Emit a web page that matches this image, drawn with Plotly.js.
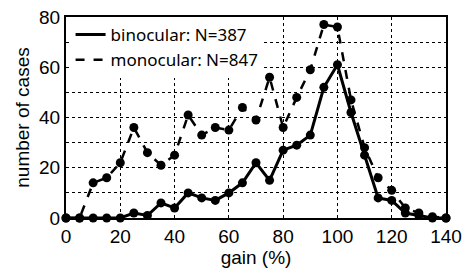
<!DOCTYPE html>
<html>
<head>
<meta charset="utf-8">
<script src="https://cdn.plot.ly/plotly-3.0.1.min.js"></script>
<style>html,body{margin:0;padding:0;background:#fff;}#chart{width:463px;height:270px;}</style>
</head>
<body>
<div id="chart"></div>
<script>
const gain = [0,5,10,15,20,25,30,35,40,45,50,55,60,65,70,75,80,85,90,95,100,105,110,115,120,125,130,135,140];
const binocular = [0,0,0,0,0,2,1,6,4,10,8,7,10,14,22,15,27,29,33,52,61,42,25,8,7,2,1,0,0];
const monocular = [0,0,14,16,22,36,26,21,25,41,33,36,35,44,39,56,36,48,59,77,76,47,28,16,11,4,2,0.5,0];
const seriesNames = ["binocular: N=387", "monocular: N=847"];
const xTicks = [0,20,40,60,80,100,120,140];
const yTicks = [0,20,40,60,80];

const FONT = "'Liberation Sans', Arial, sans-serif";
const LFONT = "'Noto Sans', sans-serif";

const traces = [
  {x: gain, y: binocular, mode: 'lines+markers', showlegend: false, cliponaxis: false,
   line: {color: '#000', width: 3, dash: 'solid'}, marker: {color: '#000', size: 9}},
  {x: gain, y: monocular, mode: 'lines+markers', showlegend: false, cliponaxis: false,
   line: {color: '#000', width: 2.5, dash: 'dash'}, marker: {color: '#000', size: 9}},
  {x: [null], y: [null], mode: 'lines', name: seriesNames[0],
   line: {color: '#000', width: 3, dash: 'solid'}},
  {x: [null], y: [null], mode: 'lines', name: seriesNames[1],
   line: {color: '#000', width: 2.5, dash: 'dash'}}
];

const layout = {
  width: 463, height: 270,
  margin: {l: 66, r: 17, t: 17, b: 52},
  paper_bgcolor: '#fff', plot_bgcolor: '#fff',
  font: {family: FONT, size: 19, color: '#000'},
  showlegend: true,
  legend: {x: 0.012, y: 1.0, xanchor: 'left', yanchor: 'top', bgcolor: '#fff',
           font: {family: LFONT, size: 17, color: '#000'}, tracegroupgap: 0,
           itemwidth: 30},
  xaxis: {range: [0, 140], tickvals: xTicks, ticktext: xTicks.map(String),
          showline: true, mirror: true, linecolor: '#000', linewidth: 2,
          showgrid: true, gridcolor: '#000', griddash: 'dot', gridwidth: 1.2,
          zeroline: false, ticks: '', ticklen: 0, ticklabeloverflow: 'allow',
          automargin: false,
          title: {text: 'gain (%)', standoff: 0, font: {family: FONT, size: 19}},
          tickfont: {family: FONT, size: 19}},
  yaxis: {range: [0, 80], tickvals: yTicks, ticktext: yTicks.map(String),
          showline: true, mirror: true, linecolor: '#000', linewidth: 2,
          showgrid: true, gridcolor: '#000', griddash: 'dot', gridwidth: 1.2,
          minor: {dtick: 10, showgrid: true, gridcolor: '#000', griddash: 'dot', gridwidth: 1.2},
          zeroline: false, ticks: '', ticklen: 0, automargin: false,
          title: {text: 'number of cases', standoff: 4, font: {family: FONT, size: 19}},
          tickfont: {family: FONT, size: 19}}
};

Plotly.newPlot('chart', traces, layout, {displayModeBar: false, staticPlot: true});
</script>
</body>
</html>
